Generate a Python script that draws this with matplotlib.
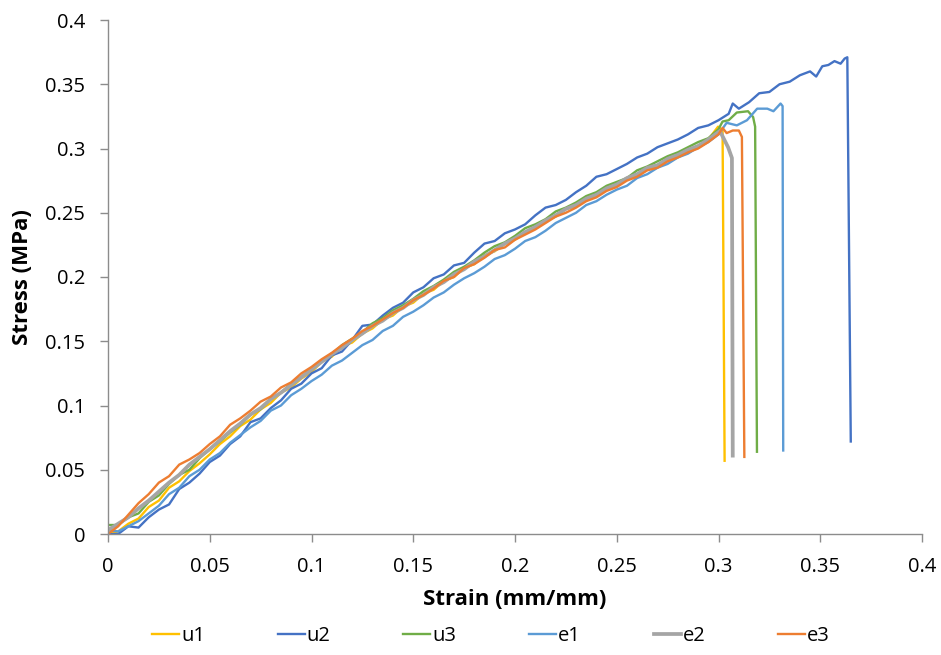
import matplotlib
matplotlib.use('Agg')
import matplotlib.pyplot as plt

# strain grid (mm/mm) shared by the loading part of every test
strain = [0.000, 0.005, 0.010, 0.015, 0.020, 0.025, 0.030, 0.035, 0.040, 0.045,
          0.050, 0.055, 0.060, 0.065, 0.070, 0.075, 0.080, 0.085, 0.090, 0.095,
          0.100, 0.105, 0.110, 0.115, 0.120, 0.125, 0.130, 0.135, 0.140, 0.145,
          0.150, 0.155, 0.160, 0.165, 0.170, 0.175, 0.180, 0.185, 0.190, 0.195,
          0.200, 0.205, 0.210, 0.215, 0.220, 0.225, 0.230, 0.235, 0.240, 0.245,
          0.250, 0.255, 0.260, 0.265, 0.270, 0.275, 0.280, 0.285, 0.290, 0.295]

# stress (MPa) on the grid
u1 = [0.000, 0.002, 0.008, 0.012, 0.021, 0.026, 0.036, 0.041, 0.049, 0.055,
      0.062, 0.070, 0.076, 0.084, 0.089, 0.097, 0.102, 0.110, 0.114, 0.121,
      0.126, 0.134, 0.138, 0.146, 0.149, 0.156, 0.160, 0.167, 0.170, 0.177,
      0.180, 0.187, 0.190, 0.197, 0.200, 0.207, 0.210, 0.217, 0.220, 0.226,
      0.229, 0.235, 0.238, 0.244, 0.247, 0.253, 0.255, 0.261, 0.263, 0.269,
      0.271, 0.277, 0.279, 0.285, 0.286, 0.292, 0.294, 0.299, 0.301, 0.307]
u2 = [0.000, 0.000, 0.006, 0.005, 0.013, 0.019, 0.023, 0.035, 0.040, 0.047,
      0.056, 0.061, 0.070, 0.076, 0.087, 0.090, 0.098, 0.104, 0.113, 0.117,
      0.125, 0.129, 0.139, 0.142, 0.151, 0.162, 0.163, 0.170, 0.176, 0.180,
      0.188, 0.192, 0.199, 0.202, 0.209, 0.211, 0.219, 0.226, 0.228, 0.234,
      0.237, 0.241, 0.248, 0.254, 0.256, 0.260, 0.266, 0.271, 0.278, 0.280,
      0.284, 0.288, 0.293, 0.296, 0.301, 0.304, 0.307, 0.311, 0.316, 0.318]
u3 = [0.007, 0.007, 0.013, 0.016, 0.025, 0.030, 0.039, 0.046, 0.050, 0.059,
      0.066, 0.072, 0.079, 0.085, 0.093, 0.097, 0.105, 0.110, 0.117, 0.122,
      0.129, 0.135, 0.140, 0.147, 0.152, 0.157, 0.164, 0.168, 0.174, 0.178,
      0.183, 0.189, 0.193, 0.198, 0.204, 0.208, 0.213, 0.219, 0.224, 0.227,
      0.232, 0.238, 0.241, 0.245, 0.251, 0.254, 0.258, 0.263, 0.266, 0.271,
      0.274, 0.277, 0.283, 0.286, 0.290, 0.294, 0.297, 0.301, 0.305, 0.308]
e1 = [0.003, 0.002, 0.006, 0.010, 0.016, 0.022, 0.031, 0.036, 0.045, 0.050,
      0.058, 0.063, 0.071, 0.077, 0.083, 0.088, 0.096, 0.100, 0.108, 0.113,
      0.119, 0.124, 0.131, 0.135, 0.141, 0.147, 0.151, 0.158, 0.162, 0.169,
      0.173, 0.178, 0.184, 0.188, 0.194, 0.199, 0.203, 0.208, 0.214, 0.217,
      0.222, 0.228, 0.231, 0.236, 0.242, 0.246, 0.250, 0.256, 0.259, 0.264,
      0.268, 0.271, 0.277, 0.280, 0.285, 0.288, 0.293, 0.296, 0.301, 0.305]
e2 = [0.003, 0.008, 0.013, 0.020, 0.026, 0.033, 0.040, 0.046, 0.054, 0.060,
      0.066, 0.073, 0.080, 0.086, 0.093, 0.098, 0.105, 0.110, 0.116, 0.122,
      0.128, 0.134, 0.140, 0.145, 0.151, 0.156, 0.162, 0.166, 0.172, 0.176,
      0.182, 0.186, 0.192, 0.196, 0.202, 0.206, 0.212, 0.216, 0.221, 0.226,
      0.230, 0.235, 0.239, 0.244, 0.248, 0.253, 0.256, 0.261, 0.264, 0.269,
      0.272, 0.277, 0.280, 0.285, 0.287, 0.292, 0.295, 0.299, 0.302, 0.307]
e3 = [0.000, 0.006, 0.015, 0.024, 0.031, 0.040, 0.045, 0.054, 0.058, 0.063,
      0.070, 0.076, 0.085, 0.090, 0.096, 0.103, 0.107, 0.114, 0.118, 0.125,
      0.130, 0.136, 0.141, 0.147, 0.152, 0.158, 0.162, 0.167, 0.172, 0.176,
      0.182, 0.186, 0.191, 0.197, 0.200, 0.207, 0.210, 0.215, 0.221, 0.223,
      0.229, 0.233, 0.237, 0.242, 0.247, 0.250, 0.254, 0.259, 0.262, 0.267,
      0.270, 0.275, 0.278, 0.283, 0.285, 0.290, 0.293, 0.297, 0.300, 0.305]

# end of each test: peak and failure drop
u1_tail_x = [0.2998, 0.302, 0.3030]
u1_tail_y = [0.317, 0.314, 0.057]
u2_tail_x = [0.300, 0.305, 0.307, 0.310, 0.315, 0.320, 0.325, 0.330, 0.335, 0.340,
             0.345, 0.348, 0.351, 0.354, 0.357, 0.360, 0.362, 0.3633, 0.365]
u2_tail_y = [0.322, 0.327, 0.335, 0.331, 0.336, 0.343, 0.344, 0.350, 0.352, 0.357,
             0.360, 0.356, 0.364, 0.365, 0.368, 0.366, 0.370, 0.371, 0.072]
u3_tail_x = [0.300, 0.302, 0.305, 0.309, 0.3145, 0.317, 0.318, 0.3189]
u3_tail_y = [0.315, 0.321, 0.322, 0.328, 0.329, 0.3245, 0.317, 0.064]
e1_tail_x = [0.300, 0.304, 0.309, 0.314, 0.319, 0.324, 0.327, 0.3305, 0.3315, 0.3318]
e1_tail_y = [0.311, 0.320, 0.318, 0.322, 0.331, 0.331, 0.329, 0.335, 0.333, 0.065]
e2_tail_x = [0.3007, 0.3047, 0.3066, 0.3070]
e2_tail_y = [0.3136, 0.301, 0.2926, 0.061]
e3_tail_x = [0.300, 0.302, 0.304, 0.307, 0.310, 0.3115, 0.3127]
e3_tail_y = [0.311, 0.316, 0.312, 0.314, 0.314, 0.309, 0.060]

names = ['u1', 'u2', 'u3', 'e1', 'e2', 'e3']
colors = ['#FFC000', '#4472C4', '#70AD47', '#5B9BD5', '#A5A5A5', '#ED7D31']
widths = [1.7, 1.7, 1.7, 1.7, 2.7, 1.7]
bodies = [u1, u2, u3, e1, e2, e3]
tails = [(u1_tail_x, u1_tail_y), (u2_tail_x, u2_tail_y), (u3_tail_x, u3_tail_y),
         (e1_tail_x, e1_tail_y), (e2_tail_x, e2_tail_y), (e3_tail_x, e3_tail_y)]

plt.rcParams['font.family'] = ['Open Sans', 'DejaVu Sans']

fig = plt.figure(figsize=(9.41, 6.55), dpi=100)
ax = fig.add_axes([108/941., 1-534/655., 814/941., 514/655.])

for name, c, lw, body, (tx, ty) in zip(names, colors, widths, bodies, tails):
    ax.plot(strain + tx, body + ty, color=c, linewidth=lw, label=name,
            solid_joinstyle='round')

ax.set_xlim(0, 0.4)
ax.set_ylim(0, 0.4)
ticks = [0, 0.05, 0.1, 0.15, 0.2, 0.25, 0.3, 0.35, 0.4]
tick_labels = ['0', '0.05', '0.1', '0.15', '0.2', '0.25', '0.3', '0.35', '0.4']
ax.set_xticks(ticks)
ax.set_yticks(ticks)
ax.set_xticklabels(tick_labels)
ax.set_yticklabels(tick_labels)

for s in ['top', 'right']:
    ax.spines[s].set_visible(False)
for s in ['left', 'bottom']:
    ax.spines[s].set_color('#8C8C8C')
    ax.spines[s].set_linewidth(1.0)
ax.tick_params(direction='out', length=5.5, width=1.0, color='#8C8C8C',
               labelsize=14.5, pad=11, labelcolor='black')

ax.set_xlabel('Strain (mm/mm)', fontsize=16, fontweight='bold', labelpad=9)
ax.set_ylabel('Stress (MPa)', fontsize=16, fontweight='bold', labelpad=9)

fig.legend(loc='center', bbox_to_anchor=(491/941., 1-636/655.), ncol=6,
           frameon=False, fontsize=14.5, handlelength=1.35, handletextpad=0.1,
           columnspacing=3.6)

fig.savefig('out.png', dpi=100)
